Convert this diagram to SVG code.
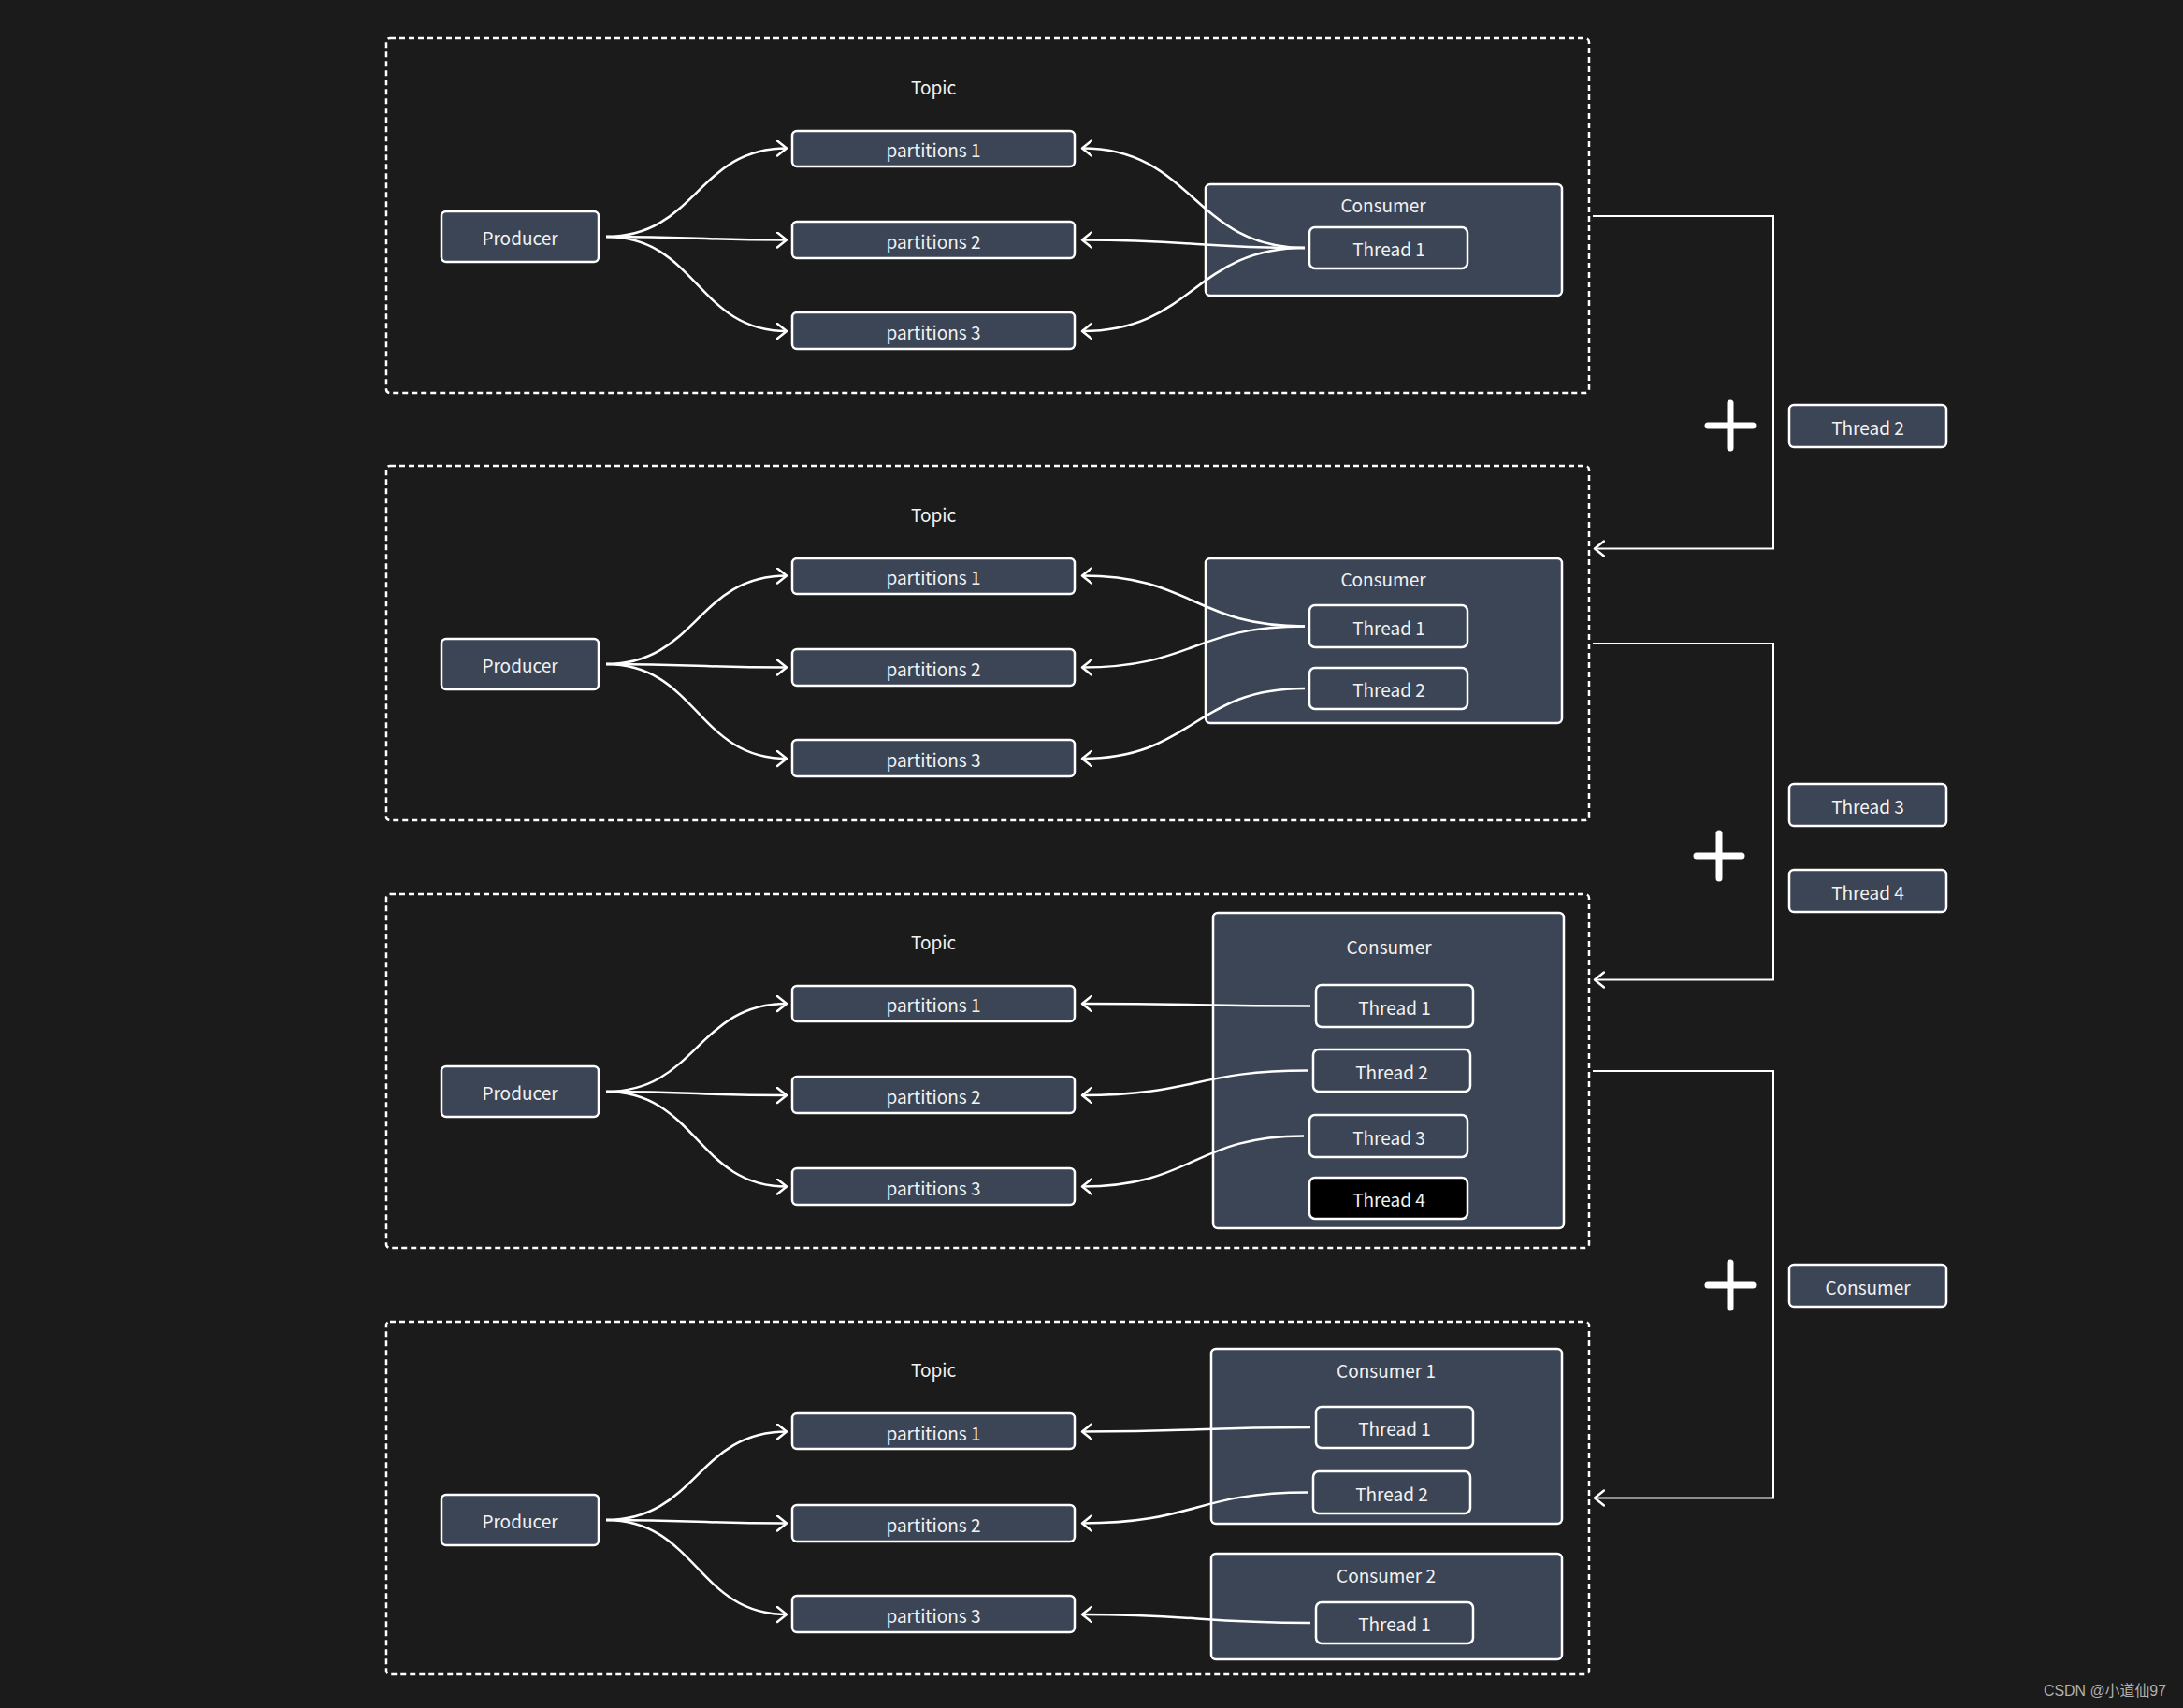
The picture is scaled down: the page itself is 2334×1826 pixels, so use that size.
<svg xmlns="http://www.w3.org/2000/svg" width="2334" height="1826" viewBox="0 0 2334 1826">
<style>
.bg{fill:#1b1b1b}
.sec{fill:none;stroke:#ffffff;stroke-width:2.5;stroke-dasharray:6 4}
.box{fill:#3b4555;stroke:#ffffff;stroke-width:2.5}
.blk{fill:#000000;stroke:#ffffff;stroke-width:2.5}
.t{font-family:"Noto Sans CJK SC","Noto Sans",sans-serif;font-size:19px;fill:#f2f2f2;text-anchor:middle;dominant-baseline:central}
.ln{fill:none;stroke:#ffffff;stroke-width:2.5}
.br{fill:none;stroke:#ffffff;stroke-width:2}
.plus{stroke:#ffffff;stroke-width:7;stroke-linecap:round}
.wm{font-family:"Liberation Sans","Noto Sans CJK SC",sans-serif;font-size:16px;fill:#b0b0b0}
</style>
<defs>
<marker id="ah" markerUnits="userSpaceOnUse" markerWidth="16" markerHeight="20" refX="11" refY="9" orient="auto">
<path d="M1,1 L11,9 L1,17" fill="none" stroke="#ffffff" stroke-width="2.5" stroke-linecap="round" stroke-linejoin="round"/>
</marker>
</defs>
<rect class="bg" x="0" y="0" width="2334" height="1826"/>

<!-- Section 1 -->
<g id="section1">
<rect class="sec" x="413" y="41" width="1286" height="379" rx="4"/>
<text class="t" x="998" y="92">Topic</text>
</g>
<g id="producer1"><rect class="box" x="472" y="226" width="168" height="54" rx="5"/><text class="t" x="556" y="253">Producer</text></g>
<g id="s1p1"><rect class="box" x="847" y="140" width="302" height="38" rx="5"/><text class="t" x="998" y="159">partitions 1</text></g>
<g id="s1p2"><rect class="box" x="847" y="237" width="302" height="39" rx="5"/><text class="t" x="998" y="257">partitions 2</text></g>
<g id="s1p3"><rect class="box" x="847" y="334" width="302" height="39" rx="5"/><text class="t" x="998" y="354">partitions 3</text></g>
<g id="s1consumer"><rect class="box" x="1289" y="197" width="381" height="119" rx="5"/><text class="t" x="1479" y="218">Consumer</text></g>
<g id="s1t1"><rect class="box" x="1400" y="243" width="169" height="44" rx="6"/><text class="t" x="1485" y="265">Thread 1</text></g>

<!-- Section 2 -->
<g id="section2">
<rect class="sec" x="413" y="498" width="1286" height="379" rx="4"/>
<text class="t" x="998" y="549">Topic</text>
</g>
<g id="producer2"><rect class="box" x="472" y="683" width="168" height="54" rx="5"/><text class="t" x="556" y="710">Producer</text></g>
<g id="s2p1"><rect class="box" x="847" y="597" width="302" height="38" rx="5"/><text class="t" x="998" y="616">partitions 1</text></g>
<g id="s2p2"><rect class="box" x="847" y="694" width="302" height="39" rx="5"/><text class="t" x="998" y="714">partitions 2</text></g>
<g id="s2p3"><rect class="box" x="847" y="791" width="302" height="39" rx="5"/><text class="t" x="998" y="811">partitions 3</text></g>
<g id="s2consumer"><rect class="box" x="1289" y="597" width="381" height="176" rx="5"/><text class="t" x="1479" y="618">Consumer</text></g>
<g id="s2t1"><rect class="box" x="1400" y="647" width="169" height="45" rx="6"/><text class="t" x="1485" y="670">Thread 1</text></g>
<g id="s2t2"><rect class="box" x="1400" y="714" width="169" height="44" rx="6"/><text class="t" x="1485" y="736">Thread 2</text></g>

<!-- Section 3 -->
<g id="section3">
<rect class="sec" x="413" y="956" width="1286" height="378" rx="4"/>
<text class="t" x="998" y="1006">Topic</text>
</g>
<g id="producer3"><rect class="box" x="472" y="1140" width="168" height="54" rx="5"/><text class="t" x="556" y="1167">Producer</text></g>
<g id="s3p1"><rect class="box" x="847" y="1054" width="302" height="38" rx="5"/><text class="t" x="998" y="1073">partitions 1</text></g>
<g id="s3p2"><rect class="box" x="847" y="1151" width="302" height="39" rx="5"/><text class="t" x="998" y="1171">partitions 2</text></g>
<g id="s3p3"><rect class="box" x="847" y="1249" width="302" height="39" rx="5"/><text class="t" x="998" y="1269">partitions 3</text></g>
<g id="s3consumer"><rect class="box" x="1297" y="976" width="375" height="337" rx="5"/><text class="t" x="1485" y="1011">Consumer</text></g>
<g id="s3t1"><rect class="box" x="1407" y="1053" width="168" height="45" rx="6"/><text class="t" x="1491" y="1076">Thread 1</text></g>
<g id="s3t2"><rect class="box" x="1404" y="1122" width="168" height="45" rx="6"/><text class="t" x="1488" y="1145">Thread 2</text></g>
<g id="s3t3"><rect class="box" x="1400" y="1192" width="169" height="45" rx="6"/><text class="t" x="1485" y="1215">Thread 3</text></g>
<g id="s3t4"><rect class="blk" x="1400" y="1259" width="169" height="44" rx="6"/><text class="t" x="1485" y="1281">Thread 4</text></g>

<!-- Section 4 -->
<g id="section4">
<rect class="sec" x="413" y="1413" width="1286" height="377" rx="4"/>
<text class="t" x="998" y="1463">Topic</text>
</g>
<g id="producer4"><rect class="box" x="472" y="1598" width="168" height="54" rx="5"/><text class="t" x="556" y="1625">Producer</text></g>
<g id="s4p1"><rect class="box" x="847" y="1511" width="302" height="38" rx="5"/><text class="t" x="998" y="1531">partitions 1</text></g>
<g id="s4p2"><rect class="box" x="847" y="1609" width="302" height="39" rx="5"/><text class="t" x="998" y="1629">partitions 2</text></g>
<g id="s4p3"><rect class="box" x="847" y="1706" width="302" height="39" rx="5"/><text class="t" x="998" y="1726">partitions 3</text></g>
<g id="s4consumer1"><rect class="box" x="1295" y="1442" width="375" height="187" rx="5"/><text class="t" x="1482" y="1464">Consumer 1</text></g>
<g id="s4c1t1"><rect class="box" x="1407" y="1504" width="168" height="44" rx="6"/><text class="t" x="1491" y="1526">Thread 1</text></g>
<g id="s4c1t2"><rect class="box" x="1404" y="1573" width="168" height="45" rx="6"/><text class="t" x="1488" y="1596">Thread 2</text></g>
<g id="s4consumer2"><rect class="box" x="1295" y="1661" width="375" height="113" rx="5"/><text class="t" x="1482" y="1683">Consumer 2</text></g>
<g id="s4c2t1"><rect class="box" x="1407" y="1713" width="168" height="44" rx="6"/><text class="t" x="1491" y="1735">Thread 1</text></g>

<!-- Side items -->
<g id="add1">
<line class="plus" x1="1826" y1="455" x2="1874" y2="455"/><line class="plus" x1="1850" y1="431" x2="1850" y2="479"/>
</g>
<g id="side-thread2"><rect class="box" x="1913" y="433" width="168" height="45" rx="5"/><text class="t" x="1997" y="456">Thread 2</text></g>
<g id="add2">
<line class="plus" x1="1814" y1="915" x2="1862" y2="915"/><line class="plus" x1="1838" y1="891" x2="1838" y2="939"/>
</g>
<g id="side-thread3"><rect class="box" x="1913" y="838" width="168" height="45" rx="5"/><text class="t" x="1997" y="861">Thread 3</text></g>
<g id="side-thread4"><rect class="box" x="1913" y="930" width="168" height="45" rx="5"/><text class="t" x="1997" y="953">Thread 4</text></g>
<g id="add3">
<line class="plus" x1="1826" y1="1374" x2="1874" y2="1374"/><line class="plus" x1="1850" y1="1350" x2="1850" y2="1398"/>
</g>
<g id="side-consumer"><rect class="box" x="1913" y="1352" width="168" height="45" rx="5"/><text class="t" x="1997" y="1375">Consumer</text></g>

<!-- Connectors -->
<g id="connectors">
<path class="ln" marker-end="url(#ah)" d="M648,253 C745,253 745,158.5 841,158.5"/>
<path class="ln" marker-end="url(#ah)" d="M648,253 C745,253 745,256.5 841,256.5"/>
<path class="ln" marker-end="url(#ah)" d="M648,253 C745,253 745,354 841,354"/>
<path class="ln" marker-end="url(#ah)" d="M1395,265 C1276,265 1276,158.5 1157,158.5"/>
<path class="ln" marker-end="url(#ah)" d="M1395,265 C1276,265 1276,256.5 1157,256.5"/>
<path class="ln" marker-end="url(#ah)" d="M1395,265 C1276,265 1276,354 1157,354"/>
<path class="ln" marker-end="url(#ah)" d="M648,710 C745,710 745,615.5 841,615.5"/>
<path class="ln" marker-end="url(#ah)" d="M648,710 C745,710 745,713.5 841,713.5"/>
<path class="ln" marker-end="url(#ah)" d="M648,710 C745,710 745,811 841,811"/>
<path class="ln" marker-end="url(#ah)" d="M1395,669.5 C1276,669.5 1276,615.5 1157,615.5"/>
<path class="ln" marker-end="url(#ah)" d="M1395,669.5 C1276,669.5 1276,713.5 1157,713.5"/>
<path class="ln" marker-end="url(#ah)" d="M1395,736 C1276,736 1276,811 1157,811"/>
<path class="ln" marker-end="url(#ah)" d="M648,1167 C745,1167 745,1073 841,1073"/>
<path class="ln" marker-end="url(#ah)" d="M648,1167 C745,1167 745,1171 841,1171"/>
<path class="ln" marker-end="url(#ah)" d="M648,1167 C745,1167 745,1268.5 841,1268.5"/>
<path class="ln" marker-end="url(#ah)" d="M1401,1075.5 C1280,1075.5 1280,1073 1157,1073"/>
<path class="ln" marker-end="url(#ah)" d="M1398,1144.5 C1278,1144.5 1278,1171 1157,1171"/>
<path class="ln" marker-end="url(#ah)" d="M1394,1214.5 C1276,1214.5 1276,1268.5 1157,1268.5"/>
<path class="ln" marker-end="url(#ah)" d="M648,1625 C745,1625 745,1530.5 841,1530.5"/>
<path class="ln" marker-end="url(#ah)" d="M648,1625 C745,1625 745,1628.5 841,1628.5"/>
<path class="ln" marker-end="url(#ah)" d="M648,1625 C745,1625 745,1726 841,1726"/>
<path class="ln" marker-end="url(#ah)" d="M1401,1526 C1280,1526 1280,1530.5 1157,1530.5"/>
<path class="ln" marker-end="url(#ah)" d="M1398,1595.5 C1278,1595.5 1278,1628.5 1157,1628.5"/>
<path class="ln" marker-end="url(#ah)" d="M1401,1735 C1280,1735 1280,1726 1157,1726"/>
<path class="br" marker-end="url(#ah)" d="M1703,231 H1896 V586.5 H1705"/>
<path class="br" marker-end="url(#ah)" d="M1703,688 H1896 V1047.5 H1705"/>
<path class="br" marker-end="url(#ah)" d="M1703,1145 H1896 V1601.5 H1705"/>
</g>

<text class="wm" x="2185" y="1813" textLength="131" lengthAdjust="spacingAndGlyphs">CSDN @小道仙97</text>
</svg>
